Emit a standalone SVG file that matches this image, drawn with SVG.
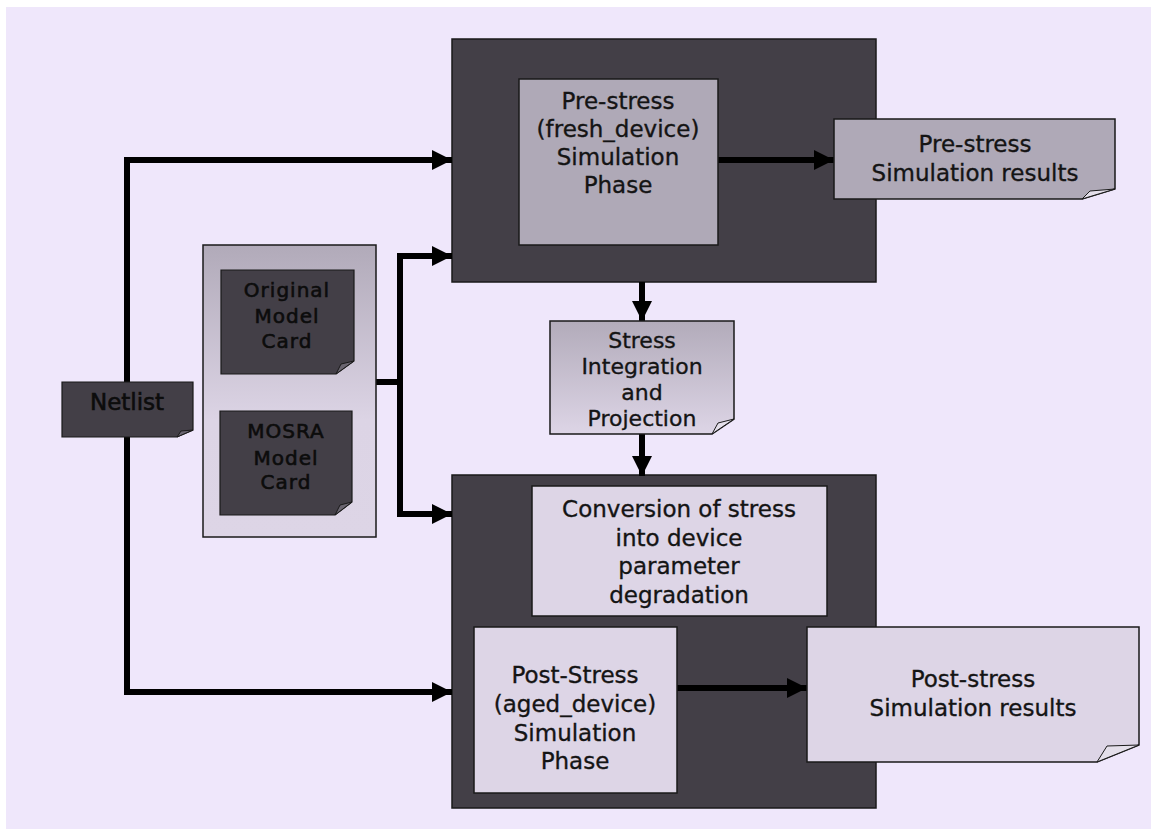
<svg xmlns="http://www.w3.org/2000/svg" width="1151" height="830" viewBox="0 0 1151 830">
  <defs>
    <style>
      .t { font-family: "DejaVu Sans", "Liberation Sans", sans-serif; font-size: 23px; fill: #141414; stroke: #141414; stroke-width: 0.35; text-anchor: middle; }
      .card { font-size: 20px; letter-spacing: 1px; fill: #0c0c0c; stroke: #0c0c0c; stroke-width: 0.6; }
      .on-dark { fill: #0c0c0c; stroke: #0c0c0c; stroke-width: 0.6; }
      .tight { font-size: 22px; }
      .frame { fill: #433f47; stroke: #1a1a1a; stroke-width: 1.5; }
      .mid { fill: #afa9b7; stroke: #1a1a1a; stroke-width: 1.5; }
      .light { fill: #ddd5e6; stroke: #1a1a1a; stroke-width: 1.5; }
      .dark { fill: #433f47; stroke: #1a1a1a; stroke-width: 1.2; }
      .fold { fill: #e4dfea; stroke: #1a1a1a; stroke-width: 1; }
      .fold-dark { fill: #6a6570; stroke: #1a1a1a; stroke-width: 1; }
      .wire { fill: none; stroke: #000; stroke-width: 6; marker-end: url(#ah); }
      .wire-plain { fill: none; stroke: #000; stroke-width: 6; }
    </style>
    <linearGradient id="gCards" x1="0" y1="0" x2="0" y2="1">
      <stop offset="0" stop-color="#b1aab9"/>
      <stop offset="0.6" stop-color="#dcd4e5"/>
      <stop offset="1" stop-color="#ddd5e6"/>
    </linearGradient>
    <linearGradient id="gStress" x1="0" y1="0" x2="0" y2="1">
      <stop offset="0" stop-color="#b2abba"/>
      <stop offset="1" stop-color="#ddd5e6"/>
    </linearGradient>
    <marker id="ah" markerUnits="userSpaceOnUse" markerWidth="20" markerHeight="20" refX="20" refY="10" orient="auto">
      <path d="M0,0 L20,10 L0,20 Z" fill="#000"/>
    </marker>
  </defs>

  <!-- page -->
  <rect x="0" y="0" width="1151" height="830" fill="#ffffff"/>
  <rect x="6" y="7" width="1145" height="822" fill="#efe7fb"/>

  <!-- frames -->
  <g id="pre-stress-frame">
    <rect class="frame" x="452" y="39" width="424" height="243"/>
  </g>
  <g id="post-stress-frame">
    <rect class="frame" x="452" y="475" width="424" height="333"/>
  </g>

  <!-- connectors -->
  <g id="connectors">
    <path class="wire" d="M127,382 V160 H452"/>
    <path class="wire" d="M127,437 V692 H452"/>
    <path class="wire-plain" d="M376,382 H400"/>
    <path class="wire" d="M400,382 V256 H452"/>
    <path class="wire" d="M400,382 V514 H452"/>
    <path class="wire" d="M282,411 V374" style="stroke-width:7"/>
    <path class="wire" d="M718,160 H834"/>
    <path class="wire" d="M642,282 V321"/>
    <path class="wire" d="M642,434 V476"/>
    <path class="wire" d="M663,688 H807"/>
  </g>

  <!-- Netlist -->
  <g id="netlist">
    <path class="dark" d="M62,382 H193 V430 L177,437 H62 Z"/>
    <path class="fold-dark" d="M177,437 L181,431 L193,430 Z"/>
    <text class="t on-dark" x="127" y="410">Netlist</text>
  </g>

  <!-- Model cards -->
  <g id="model-cards">
    <rect x="203" y="245" width="173" height="292" fill="url(#gCards)" stroke="#1a1a1a" stroke-width="1.5"/>
  </g>
  <g id="original-model-card">
    <path class="dark" d="M221,270 H354 V361 L336,374 H221 Z"/>
    <path class="fold-dark" d="M336,374 L341,364 L354,361 Z"/>
    <text class="t card" x="287" y="297">Original</text>
    <text class="t card" x="287" y="323">Model</text>
    <text class="t card" x="287" y="348">Card</text>
  </g>
  <g id="mosra-model-card">
    <path class="dark" d="M220,411 H352 V502 L335,515 H220 Z"/>
    <path class="fold-dark" d="M335,515 L340,505 L352,502 Z"/>
    <text class="t card" x="286" y="438">MOSRA</text>
    <text class="t card" x="286" y="465">Model</text>
    <text class="t card" x="286" y="489">Card</text>
  </g>

  <!-- Pre-stress simulation -->
  <g id="pre-stress-phase">
    <rect class="mid" x="519" y="79" width="199" height="166"/>
    <text class="t" x="618" y="109">Pre-stress</text>
    <text class="t" x="618" y="137">(fresh_device)</text>
    <text class="t" x="618" y="165">Simulation</text>
    <text class="t" x="618" y="193">Phase</text>
  </g>
  <g id="pre-stress-results">
    <path class="mid" d="M834,119 H1115 V189 L1082,199 H834 Z"/>
    <path class="fold" d="M1082,199 L1090,191 L1115,189 Z"/>
    <text class="t" x="975" y="152">Pre-stress</text>
    <text class="t" x="975" y="181">Simulation results</text>
  </g>

  <!-- Stress integration -->
  <g id="stress-integration">
    <path d="M550,321 H734 V419 L712,434 H550 Z" fill="url(#gStress)" stroke="#1a1a1a" stroke-width="1.5"/>
    <path class="fold" d="M712,434 L718,423 L734,419 Z"/>
    <text class="t tight" x="642" y="348">Stress</text>
    <text class="t tight" x="642" y="374">Integration</text>
    <text class="t tight" x="642" y="400">and</text>
    <text class="t tight" x="642" y="426">Projection</text>
  </g>

  <!-- Post-stress simulation -->
  <g id="stress-conversion">
    <rect class="light" x="532" y="486" width="295" height="130"/>
    <text class="t" x="679" y="517">Conversion of stress</text>
    <text class="t" x="679" y="546">into device</text>
    <text class="t" x="679" y="574">parameter</text>
    <text class="t" x="679" y="603">degradation</text>
  </g>
  <g id="post-stress-phase">
    <rect class="light" x="474" y="627" width="203" height="166"/>
    <text class="t" x="575" y="683">Post-Stress</text>
    <text class="t" x="575" y="712">(aged_device)</text>
    <text class="t" x="575" y="741">Simulation</text>
    <text class="t" x="575" y="769">Phase</text>
  </g>
  <g id="post-stress-results">
    <path class="light" d="M807,627 H1139 V745 L1097,762 H807 Z"/>
    <path class="fold" d="M1097,762 L1107,746 L1139,745 Z"/>
    <text class="t" x="973" y="687">Post-stress</text>
    <text class="t" x="973" y="716">Simulation results</text>
  </g>
</svg>
